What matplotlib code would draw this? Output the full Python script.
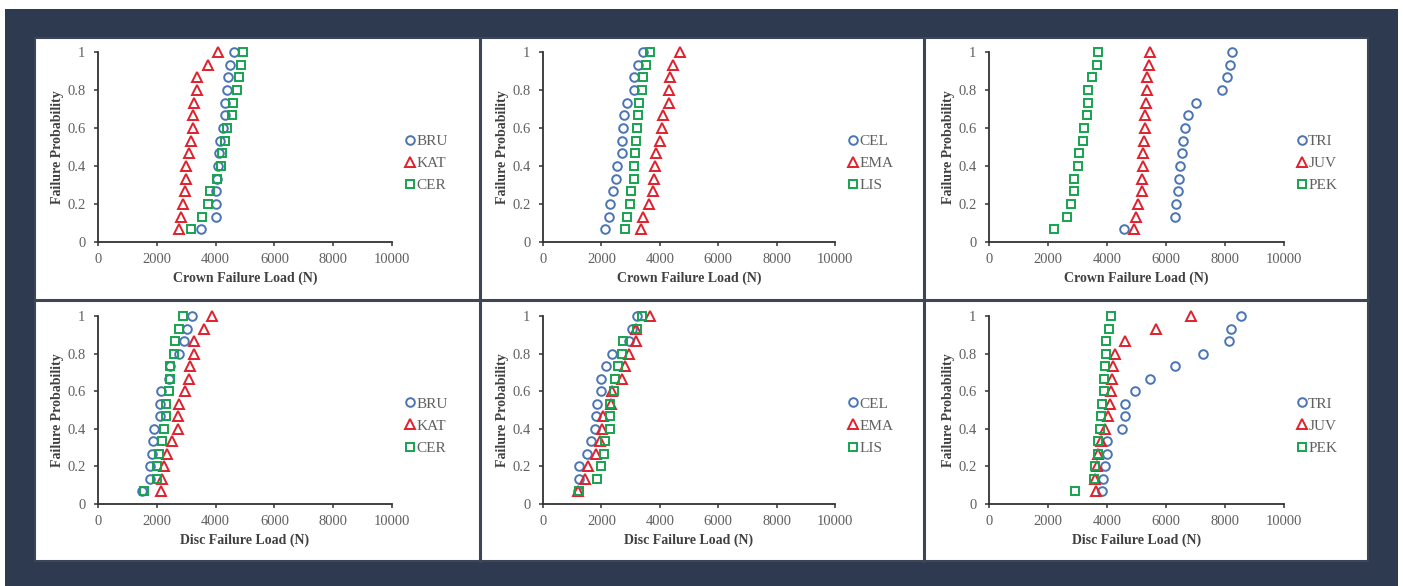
import matplotlib
matplotlib.use("Agg")
import matplotlib.pyplot as plt
from matplotlib.patches import Rectangle
from matplotlib.lines import Line2D

W, H = 1403, 586

prob = [0.067, 0.133, 0.2, 0.267, 0.333, 0.4, 0.467, 0.533, 0.6, 0.667, 0.733, 0.8, 0.867, 0.933, 1.0]

# Crown failure loads (N)
crown_BRU = [3520, 4010, 4030, 4030, 4060, 4090, 4120, 4150, 4240, 4320, 4320, 4400, 4430, 4490, 4620]
crown_KAT = [2740, 2810, 2900, 2950, 3010, 3010, 3090, 3180, 3220, 3220, 3260, 3380, 3380, 3730, 4090]
crown_CER = [3180, 3550, 3750, 3810, 4060, 4170, 4230, 4320, 4380, 4570, 4580, 4740, 4800, 4850, 4940]
crown_CEL = [2110, 2250, 2290, 2400, 2510, 2530, 2690, 2710, 2740, 2780, 2890, 3110, 3120, 3260, 3430]
crown_EMA = [3340, 3440, 3620, 3750, 3810, 3850, 3860, 4020, 4070, 4110, 4310, 4320, 4340, 4460, 4690]
crown_LIS = [2800, 2890, 2970, 3010, 3110, 3110, 3150, 3200, 3220, 3260, 3280, 3380, 3420, 3540, 3660]
crown_TRI = [4560, 6290, 6330, 6390, 6430, 6460, 6530, 6580, 6660, 6750, 7010, 7900, 8070, 8160, 8240]
crown_JUV = [4920, 4970, 5060, 5170, 5190, 5210, 5230, 5260, 5280, 5300, 5320, 5340, 5360, 5420, 5450]
crown_PEK = [2220, 2650, 2780, 2870, 2870, 3020, 3060, 3180, 3230, 3330, 3360, 3360, 3480, 3670, 3690]

# Disc failure loads (N)
disc_BRU = [1480, 1760, 1780, 1830, 1880, 1890, 2100, 2100, 2140, 2420, 2440, 2750, 2920, 3030, 3190]
disc_KAT = [2140, 2190, 2250, 2330, 2520, 2730, 2730, 2760, 2950, 3100, 3130, 3260, 3260, 3600, 3890]
disc_CER = [1570, 1990, 1990, 2060, 2160, 2240, 2310, 2310, 2410, 2440, 2440, 2590, 2630, 2750, 2900]
disc_CEL = [1200, 1220, 1220, 1490, 1650, 1790, 1830, 1860, 1970, 1970, 2160, 2350, 2950, 3060, 3230]
disc_EMA = [1210, 1450, 1540, 1810, 1940, 2010, 2060, 2320, 2350, 2710, 2820, 2940, 3200, 3200, 3660]
disc_LIS = [1220, 1850, 2000, 2080, 2110, 2290, 2310, 2310, 2420, 2460, 2560, 2710, 2740, 3230, 3390]
disc_TRI = [3820, 3880, 3920, 4010, 4010, 4510, 4600, 4600, 4960, 5450, 6290, 7250, 8140, 8190, 8530]
disc_JUV = [3620, 3590, 3670, 3710, 3810, 3940, 4030, 4090, 4150, 4180, 4200, 4260, 4600, 5650, 6860]
disc_PEK = [2900, 3560, 3580, 3690, 3690, 3760, 3810, 3840, 3900, 3900, 3930, 3950, 3950, 4070, 4120]

x_ticks = [0, 2000, 4000, 6000, 8000, 10000]
y_ticks = [0, 0.2, 0.4, 0.6, 0.8, 1.0]
y_ticklabels = ["0", "0.2", "0.4", "0.6", "0.8", "1"]

panels = [
    (["BRU", "KAT", "CER"], [crown_BRU, crown_KAT, crown_CER], "Crown Failure Load (N)"),
    (["CEL", "EMA", "LIS"], [crown_CEL, crown_EMA, crown_LIS], "Crown Failure Load (N)"),
    (["TRI", "JUV", "PEK"], [crown_TRI, crown_JUV, crown_PEK], "Crown Failure Load (N)"),
    (["BRU", "KAT", "CER"], [disc_BRU, disc_KAT, disc_CER], "Disc Failure Load (N)"),
    (["CEL", "EMA", "LIS"], [disc_CEL, disc_EMA, disc_LIS], "Disc Failure Load (N)"),
    (["TRI", "JUV", "PEK"], [disc_TRI, disc_JUV, disc_PEK], "Disc Failure Load (N)"),
]

markers = ["o", "^", "s"]
colors = ["#4a74b4", "#e0202c", "#16a34e"]

NAVY = "#2e3a4f"
TXT = "#606060"
LBL = "#404040"
plt.rcParams["font.family"] = ["Liberation Serif", "DejaVu Serif"]

fig = plt.figure(figsize=(W / 100, H / 100), dpi=100)
fig.patch.set_facecolor("white")


def fx(x):
    return x / W


def fy(y):
    return 1 - y / H


def rect(x0, y0, x1, y1, **kw):
    fig.add_artist(Rectangle((fx(x0), fy(y1)), fx(x1) - fx(x0), fy(y0) - fy(y1),
                             transform=fig.transFigure, **kw))


rect(5, 9, 1398, 586, facecolor=NAVY, edgecolor="none", zorder=0)
rect(35, 38, 1368, 561, facecolor="white", edgecolor="#3c4656", linewidth=1.5, zorder=0)
for xs in (480, 924):
    fig.add_artist(Line2D([fx(xs), fx(xs)], [fy(38), fy(561)], transform=fig.transFigure,
                          color="#3c4656", linewidth=2.2, zorder=1))
fig.add_artist(Line2D([fx(35), fx(1368)], [fy(300), fy(300)], transform=fig.transFigure,
                      color="#3c4656", linewidth=2.2, zorder=1))

# axes pixel boxes: (x0, x1, ytop, ybottom)
col_x = [(98, 392), (543, 835), (989, 1284)]
row_y = [(52, 242), (316, 504)]

for i, (names, series, xlabel) in enumerate(panels):
    r, c = divmod(i, 3)
    x0, x1 = col_x[c]
    yt, yb = row_y[r]
    ax = fig.add_axes([fx(x0), fy(yb), fx(x1) - fx(x0), fy(yt) - fy(yb)])
    ax.set_facecolor("none")
    for name, vals, m, col in zip(names, series, markers, colors):
        ax.plot(vals, prob, linestyle="none", marker=m,
                markersize=6.6 if m == "^" else 6.2,
                markerfacecolor="none", markeredgecolor=col, markeredgewidth=1.4,
                label=name, clip_on=False)
    ax.set_xlim(0, 10000)
    ax.set_ylim(0, 1)
    ax.set_xticks(x_ticks)
    ax.set_xticklabels([str(v) for v in x_ticks])
    ax.set_yticks(y_ticks)
    ax.set_yticklabels(y_ticklabels)
    for s in ("top", "right"):
        ax.spines[s].set_visible(False)
    for s in ("left", "bottom"):
        ax.spines[s].set_color("#333333")
        ax.spines[s].set_linewidth(1.3)
    ax.tick_params(direction="out", length=3, width=1.1, color="#333333",
                   labelsize=10.5, labelcolor=TXT, pad=5)
    ax.tick_params(axis="y", pad=6)
    ax.set_xlabel(xlabel, fontsize=10, fontweight="bold", color=LBL, labelpad=4)
    ax.set_ylabel("Failure Probability", fontsize=10, fontweight="bold", color=LBL, labelpad=2)
    ax.legend(loc="center left", bbox_to_anchor=(1.02, 0.415), frameon=False,
              fontsize=11, handlelength=0.8, handletextpad=0.0, labelspacing=0.55,
              labelcolor=TXT, borderaxespad=0)

fig.savefig("out.png", dpi=100, facecolor=fig.get_facecolor())
